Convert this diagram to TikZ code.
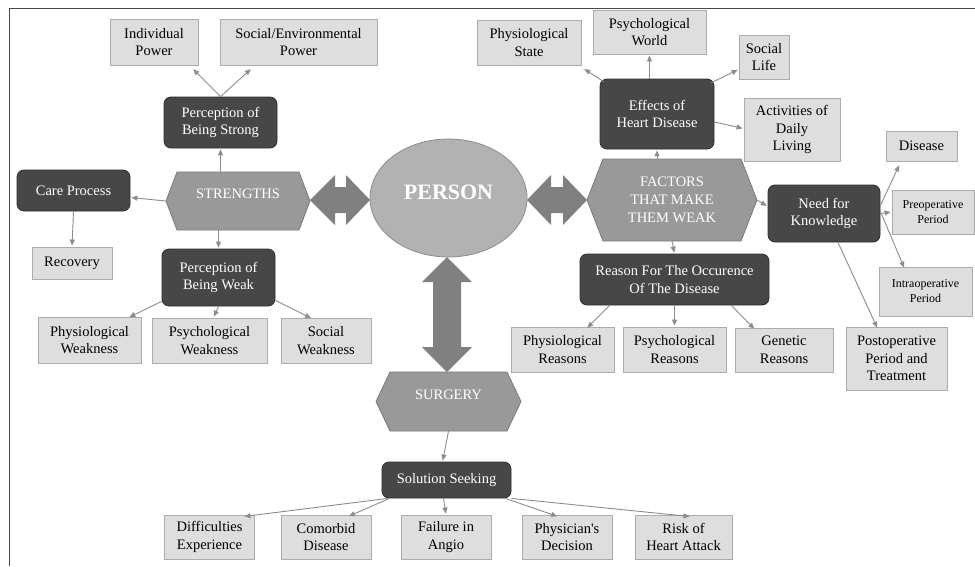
\documentclass[tikz,border=0pt]{standalone}
\usepackage{fontspec}
\setmainfont{Liberation Serif}
\usetikzlibrary{arrows.meta,calc,shapes.geometric}
\newcommand\hexshape[5]{\draw[hexfill] (#1-#3,#2) -- (#1-#3+#5,#2-#4) -- (#1+#3-#5,#2-#4) -- (#1+#3,#2) -- (#1+#3-#5,#2+#4) -- (#1-#3+#5,#2+#4) -- cycle;}
\begin{document}
\begin{tikzpicture}[x=1pt,y=-1pt,
  lb/.style={draw=black!33, fill=black!13, line width=0.9pt, align=center, inner sep=0pt, font=\fontsize{14.5}{17.5}\selectfont, text=black},
  db/.style={draw=black!82, fill=black!72, rounded corners=7pt, line width=0.8pt, align=center, inner sep=0pt, font=\fontsize{14.5}{17.5}\selectfont, text=white},
  hx/.style={inner sep=0pt, align=center, font=\fontsize{14.5}{18}\selectfont, text=white},
  hexfill/.style={fill=black!40, draw=black!52, line width=0.8pt},
  con/.style={draw=black!45, line width=0.9pt, shorten >=1pt, -{Triangle[length=6pt,width=5pt]}},
  dbl/.style={fill=black!50},
]
\useasboundingbox (0,0) rectangle (975,566);
\draw[black!72, line width=1.6pt] (9.5,566) -- (9.5,8.5) -- (975,8.5);

% hexagons
\hexshape{238}{201}{72}{29}{11}
\hexshape{672}{200}{85}{41}{16}
\hexshape{448.5}{401.5}{72.5}{29.5}{14}
\node[hx, minimum width=144pt, minimum height=58pt] (str) at (238,201) {};
\node[hx] (strt) at (238,194) {STRENGTHS};
\node[hx, minimum width=170pt, minimum height=82pt] (fac) at (672,200) {FACTORS\\THAT MAKE\\THEM WEAK};
\node[hx, minimum width=145pt, minimum height=59pt] (sur) at (448.5,401.5) {};
\node[hx] (surt) at (448.5,395) {SURGERY};

% person
\node[draw=black!45, fill=black!30, ellipse, line width=0.8pt, minimum width=157pt, minimum height=118pt, inner sep=0pt] (per) at (448.5,198) {};
\node[text=white, font=\bfseries\fontsize{22}{26}\selectfont, inner sep=0pt] (pert) at (448.5,192) {PERSON};

% double arrows
\fill[dbl] (310,200) -- (335,175) -- (335,187) -- (346,187) -- (346,175) -- (370,200) -- (346,225) -- (346,213) -- (335,213) -- (335,225) -- cycle;
\fill[dbl] (527,200) -- (551,175) -- (551,187) -- (563,187) -- (563,175) -- (587,200) -- (563,225) -- (563,213) -- (551,213) -- (551,225) -- cycle;
\fill[dbl] (447,257) -- (472,282) -- (461,282) -- (461,347) -- (472,347) -- (447,372) -- (422,347) -- (433,347) -- (433,282) -- (422,282) -- cycle;

% light boxes
\node[lb, minimum width=88pt, minimum height=46pt] (ip) at (154,42) {Individual\\Power};
\node[lb, minimum width=157pt, minimum height=46pt] (sep) at (298.5,42) {Social/Environmental\\Power};
\node[lb, minimum width=104pt, minimum height=45pt] (ps) at (529,42.5) {Physiological\\State};
\node[lb, minimum width=113pt, minimum height=44pt] (pw) at (649.5,32) {Psychological\\World};
\node[lb, minimum width=50pt, minimum height=44pt] (sl) at (764,57) {Social\\Life};
\node[lb, minimum width=96pt, minimum height=63pt] (adl) at (792,129.5) {Activities of\\Daily\\Living};
\node[lb, minimum width=71pt, minimum height=30pt] (dis) at (921.5,146) {Disease};
\node[lb, minimum width=82pt, minimum height=44pt, font=\fontsize{12}{15}\selectfont] (pre) at (933,212) {Preoperative\\Period};
\node[lb, minimum width=93pt, minimum height=49pt, font=\fontsize{12}{15}\selectfont] (intra) at (925.5,291.5) {Intraoperative\\Period};
\node[lb, minimum width=101pt, minimum height=63pt] (post) at (896.5,358.5) {Postoperative\\Period and\\Treatment};
\node[lb, minimum width=80pt, minimum height=32pt] (rec) at (72,263) {Recovery};
\node[lb, minimum width=103pt, minimum height=46pt] (phw) at (89.5,340) {Physiological\\Weakness};
\node[lb, minimum width=115pt, minimum height=45pt] (psw) at (209.5,340.5) {Psychological\\Weakness};
\node[lb, minimum width=90pt, minimum height=45pt] (sow) at (326,340.5) {Social\\Weakness};
\node[lb, minimum width=103pt, minimum height=45pt] (phr) at (562.5,349.5) {Physiological\\Reasons};
\node[lb, minimum width=103pt, minimum height=45pt] (psr) at (674.5,349.5) {Psychological\\Reasons};
\node[lb, minimum width=98pt, minimum height=44pt] (ger) at (784,350) {Genetic\\Reasons};
\node[lb, minimum width=90pt, minimum height=44pt] (dif) at (209.5,537) {Difficulties\\Experience};
\node[lb, minimum width=90pt, minimum height=44pt] (com) at (326,537) {Comorbid\\Disease};
\node[lb, minimum width=90pt, minimum height=44pt] (fai) at (446,537) {Failure in\\Angio};
\node[lb, minimum width=90pt, minimum height=44pt] (phy) at (567,537) {Physician\textquotesingle s\\Decision};
\node[lb, minimum width=97pt, minimum height=44pt] (risk) at (683.5,537) {Risk of\\Heart Attack};

% dark boxes
\node[db, minimum width=113pt, minimum height=51pt] (pbs) at (220.5,122.5) {Perception of\\Being Strong};
\node[db, minimum width=113pt, minimum height=41pt] (cp) at (73.5,190.5) {Care Process};
\node[db, minimum width=113pt, minimum height=57pt] (pbw) at (218.5,277.5) {Perception of\\Being Weak};
\node[db, minimum width=114pt, minimum height=70pt] (ehd) at (657,114) {Effects of\\Heart Disease};
\node[db, minimum width=112pt, minimum height=57pt] (nfk) at (824,213.5) {Need for\\Knowledge};
\node[db, minimum width=189pt, minimum height=51pt] (rfo) at (674.5,279.5) {Reason For The Occurence\\Of The Disease};
\node[db, minimum width=129pt, minimum height=36pt] (ss) at (446.5,480) {Solution Seeking};

% connectors
\draw[con] (pbs.north) -- ([xshift=-6pt,yshift=-3pt]ip.south east);
\draw[con] (pbs.north) -- ([xshift=32pt,yshift=-3pt]sep.south west);
\draw[con] (pbs.south |- str.north) -- (pbs.south);
\draw[con] (str.west) -- ([yshift=-7pt]cp.east);
\draw[con] (cp.south) -- (rec.north);
\draw[con] (pbw.north |- str.south) -- (pbw.north);
\draw[con] ([yshift=5pt]pbw.south west) -- ([xshift=-13pt,yshift=-1pt]phw.north east);
\draw[con] (pbw.south) -- ([xshift=4pt]psw.north);
\draw[con] ([yshift=6pt]pbw.south east) -- ([xshift=-14pt,yshift=-1pt]sow.north);

\draw[con] ([xshift=4pt,yshift=-3pt]ehd.north west) -- ([xshift=2pt,yshift=-3pt]ps.south east);
\draw[con] (pw.south |- ehd.north) -- (pw.south);
\draw[con] ([xshift=-3pt,yshift=-4pt]ehd.north east) -- ([yshift=10pt]sl.south west);
\draw[con] ([yshift=-8pt]ehd.east) -- ([yshift=1pt]adl.west);
\draw[con] (ehd.south |- fac.north) -- (ehd.south);
\draw[con] (fac.east) -- ([yshift=7pt]nfk.west);
\draw[con] ([yshift=8pt]nfk.east) -- ([xshift=14pt,yshift=-3pt]dis.south west);
\draw[con] (nfk.east) -- (pre.west);
\draw[con] ([yshift=2pt]nfk.east) -- ([xshift=26pt,yshift=-2pt]intra.north west);
\draw[con] ([xshift=14pt]nfk.south) -- ([xshift=32pt,yshift=-2pt]post.north west);
\draw[con] (fac.south) -- (rfo.north);
\draw[con] ([xshift=30pt]rfo.south west) -- ([xshift=24pt,yshift=-2pt]phr.north);
\draw[con] (psr.north |- rfo.south) -- (psr.north);
\draw[con] ([xshift=-38pt]rfo.south east) -- ([xshift=-29pt,yshift=-2pt]ger.north);

\draw[con] (sur.south) -- ([xshift=-4pt]ss.north);
\draw[con] ([xshift=6pt]ss.south west) -- ([xshift=34pt,yshift=-2pt]dif.north);
\draw[con] ([xshift=8pt]ss.south west) -- ([xshift=22pt,yshift=-2pt]com.north);
\draw[con] ([xshift=-3pt]ss.south) -- (fai.north);
\draw[con] ([xshift=-6pt]ss.south east) -- ([xshift=-9pt,yshift=-2pt]phy.north);
\draw[con] (ss.south east) -- ([xshift=7pt,yshift=-2pt]risk.north);
\end{tikzpicture}
\end{document}
